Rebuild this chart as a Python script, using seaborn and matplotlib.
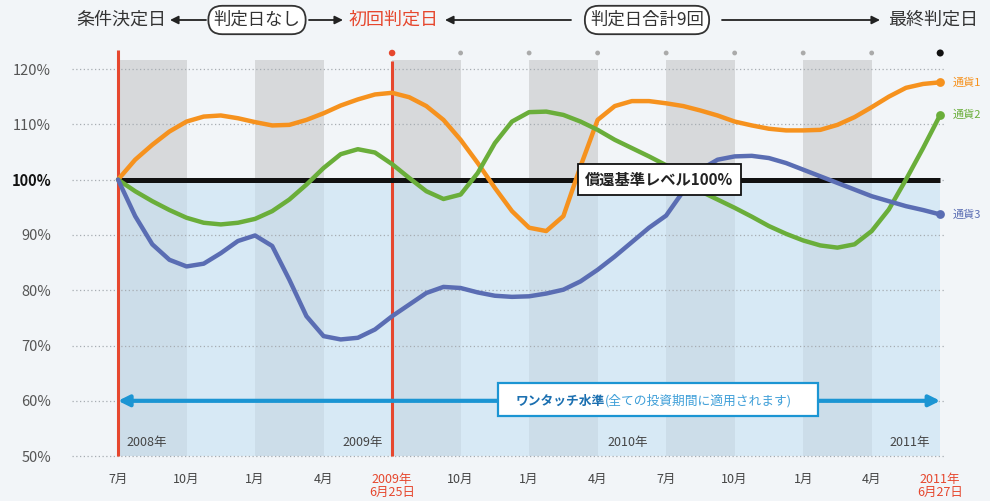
import numpy as np
import pandas as pd
import matplotlib
matplotlib.use("Agg")
import matplotlib.pyplot as plt
from matplotlib.patches import Rectangle
import seaborn as sns

# ---------------- data ----------------
tick_labels = ['7月', '10月', '1月', '4月', '2009年\n6月25日', '10月', '1月', '4月',
               '7月', '10月', '1月', '4月', '2011年\n6月27日']
y_ticks = [50, 60, 70, 80, 90, 100, 110, 120]
years = ['2008年', '2009年', '2010年', '2011年']
year_pos = [0.13, 3.87, 7.74, 11.85]
series_names = ['通貨1', '通貨2', '通貨3']
# positions in quarter-steps of the tick grid
x_steps = np.arange(49) / 4

curr1 = [100, 103.6, 106.3, 108.7, 110.5, 111.4, 111.6, 111.1, 110.4, 109.8, 109.9, 110.8, 112.0, 113.4, 114.5, 115.4, 115.7,
         114.9, 113.3, 110.8, 107.2, 103.0, 98.5, 94.3, 91.3, 90.7, 93.4, 102.4, 110.8, 113.3, 114.2, 114.2, 113.8,
         113.3, 112.5, 111.6, 110.5, 109.8, 109.2, 108.9, 108.9, 109.0, 109.9, 111.3, 113.1, 115.0, 116.6, 117.3, 117.6]
curr2 = [100, 97.9, 96.1, 94.5, 93.1, 92.2, 91.9, 92.2, 92.9, 94.3, 96.4, 99.1, 102.1, 104.6, 105.5, 104.9, 102.8,
         100.3, 97.9, 96.5, 97.3, 101.2, 106.6, 110.5, 112.2, 112.3, 111.7, 110.5, 109.0, 107.2, 105.7, 104.2, 102.6,
         100.0, 97.9, 96.4, 94.9, 93.3, 91.6, 90.2, 89.0, 88.1, 87.7, 88.3, 90.7, 94.6, 100.0, 105.7, 111.7]
curr3 = [100, 93.4, 88.3, 85.5, 84.3, 84.8, 86.7, 88.9, 89.9, 88.0, 81.9, 75.3, 71.7, 71.1, 71.4, 72.9, 75.3,
         77.4, 79.5, 80.6, 80.4, 79.6, 79.0, 78.8, 78.9, 79.4, 80.1, 81.6, 83.7, 86.1, 88.7, 91.3, 93.5,
         97.9, 101.8, 103.6, 104.2, 104.3, 103.9, 103.0, 101.8, 100.6, 99.4, 98.2, 97.0, 96.1, 95.2, 94.5, 93.7]

redemption_level = 100
touch_level = 60
judgment_idx = [4, 5, 6, 7, 8, 9, 10, 11, 12]

colors = {'通貨1': '#f6921e', '通貨2': '#6aae3a', '通貨3': '#5a6db3'}
red = '#e6472e'
touch_blue = '#1b95d3'

# ---------------- figure ----------------
sns.set_theme(style='white')
plt.rcParams['font.family'] = ['Noto Sans CJK JP', 'DejaVu Sans']

W, H = 990, 501
fig = plt.figure(figsize=(W / 100, H / 100), dpi=100)
fig.patch.set_facecolor('#f2f5f8')
ax = fig.add_axes([72 / W, 1 - 458 / H, (945 - 72) / W, (458 - 50) / H])
ax.patch.set_alpha(0)
ax.set_xlim(-0.672, 12.07)
ax.set_ylim(49.66, 123.44)

# alternating bands
for i in range(0, 12, 2):
    ax.add_patch(Rectangle((i, 50), 1, 121.6 - 50, color='#d7d9db', zorder=0.2, lw=0))
# light blue region under 100%
ax.fill_between([0, 12], 50, redemption_level, color='#c6e1f3', alpha=0.6, zorder=0.3, lw=0)

# grid
ax.set_yticks(y_ticks)
ax.set_yticklabels([f'{v}%' for v in y_ticks])
ax.grid(axis='y', color='#a7adb2', ls=(0, (1, 2)), lw=0.9)
ax.set_axisbelow('line')
ax.grid(axis='x', visible=False)
for lab in ax.get_yticklabels():
    lab.set_color('#555555')
    lab.set_fontsize(10.5)
    if lab.get_text() == '100%':
        lab.set_fontweight('bold')
        lab.set_color('#111111')

ax.set_xticks(range(len(tick_labels)))
ax.set_xticklabels(tick_labels, fontsize=9, color='#444444', linespacing=0.95)
for i, lab in enumerate(ax.get_xticklabels()):
    if '年' in tick_labels[i]:
        lab.set_color(red)
ax.tick_params(axis='x', length=0, pad=11)
ax.tick_params(axis='y', length=0, pad=15)
for s in ax.spines.values():
    s.set_visible(False)

# red vertical lines
ax.vlines(0, 50, 123.44, color=red, lw=2.2, zorder=2)
ax.vlines(4, 50, 121.4, color=red, lw=2.2, zorder=2)

# 100% line
ax.hlines(redemption_level, 0, 12, color='#111111', lw=3.6, zorder=2.5)

# one-touch arrow
ax.annotate('', xy=(0, touch_level), xytext=(12, touch_level),
            arrowprops=dict(arrowstyle='<|-|>', color=touch_blue, lw=3, mutation_scale=16,
                            shrinkA=0, shrinkB=0), zorder=3)

# curves
df = pd.DataFrame({
    'x': np.concatenate([x_steps] * 3),
    'value': curr1 + curr2 + curr3,
    'series': np.repeat(series_names, len(x_steps)),
})
sns.lineplot(data=df, x='x', y='value', hue='series', palette=colors, lw=3.2,
             legend=False, ax=ax, zorder=4, solid_joinstyle='round', solid_capstyle='round')
ax.set_xlabel('')
ax.set_ylabel('')
ends = df[df['x'] == x_steps[-1]]
for _, r in ends.iterrows():
    ax.scatter(r['x'], r['value'], s=40, color=colors[r['series']], zorder=5, lw=0)
    ax.text(12.18, r['value'], r['series'], color=colors[r['series']], fontsize=8,
            va='center', ha='left', clip_on=False)

# judgment-day dots
dot_cols = [red] + ['#aaaaaa'] * 7 + ['#111111']
dot_size = [22] + [12] * 7 + [26]
ax.scatter(judgment_idx, [122.9] * len(judgment_idx), c=dot_cols, s=dot_size, zorder=5, lw=0,
           clip_on=False)

# year labels
for yl, xp in zip(years, year_pos):
    ha = 'left' if xp < 1 else 'right'
    ax.text(xp, 52.5, yl, fontsize=9, color='#444444', ha=ha, va='center', zorder=5)

# redemption level box
ax.text(7.9, redemption_level, '償還基準レベル100%', ha='center', va='center', fontsize=11,
        fontweight='bold', color='#222222', zorder=6,
        bbox=dict(boxstyle='square,pad=0.5', fc='white', ec='#111111', lw=1.3))

# one-touch box (bold lead + normal remainder)
ax.add_patch(Rectangle((5.55, 57.3), 10.22 - 5.55, 63.2 - 57.3, fc='white', ec=touch_blue,
                       lw=1.6, zorder=5.5))
t1 = ax.text(5.80, touch_level, 'ワンタッチ水準', ha='left', va='center', fontsize=9.2,
             fontweight='bold', color='#1a6fb0', zorder=6)
ax.annotate('(全ての投資期間に適用されます)', xy=(1, 0.5), xycoords=t1, ha='left', va='center',
            fontsize=9.2, color='#3f9fd8', zorder=6)

# header
def fx(x):
    return x / W

def fy(y):
    return 1 - y / H

hy = 20
fig.text(fx(121), fy(hy), '条件決定日', ha='center', va='center', fontsize=13, color='#333333')
fig.text(fx(394), fy(hy), '初回判定日', ha='center', va='center', fontsize=13, color=red)
fig.text(fx(933), fy(hy), '最終判定日', ha='center', va='center', fontsize=13, color='#333333')
pill = dict(boxstyle='round,pad=0.3,rounding_size=0.8', fc='white', ec='#333333', lw=1.3)
fig.text(fx(257), fy(hy), '判定日なし', ha='center', va='center', fontsize=12.5, color='#333333', bbox=pill)
fig.text(fx(647), fy(hy), '判定日合計9回', ha='center', va='center', fontsize=12.5, color='#333333', bbox=pill)

arrow_kw = dict(arrowstyle='-|>', color='#222222', lw=1.3, mutation_scale=12, shrinkA=0, shrinkB=0)
for tail, head in [(206, 170), (309, 343), (571, 445), (722, 880)]:
    ax.annotate('', xy=(head, H - hy), xytext=(tail, H - hy), xycoords='figure pixels',
                textcoords='figure pixels', arrowprops=arrow_kw, annotation_clip=False)

fig.savefig('out.png', dpi=100, facecolor=fig.get_facecolor())
